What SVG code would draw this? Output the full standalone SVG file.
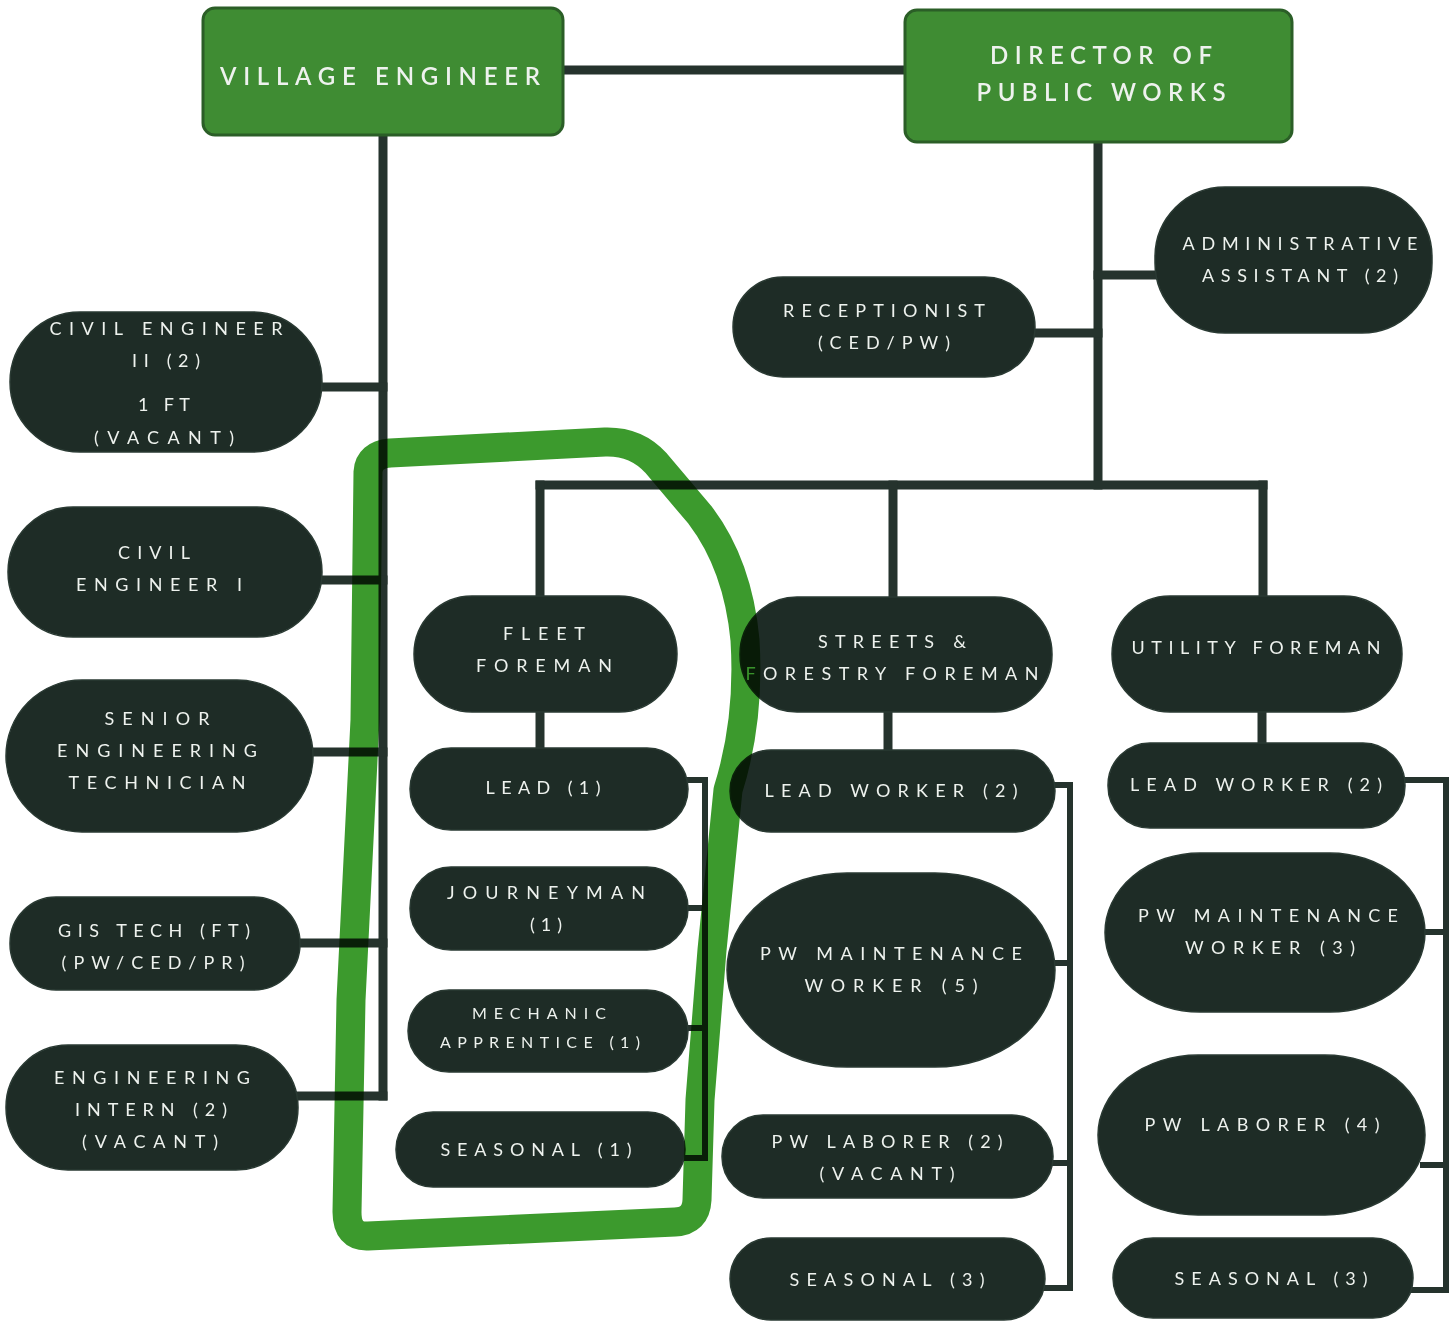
<svg xmlns="http://www.w3.org/2000/svg" width="1455" height="1321" viewBox="0 0 1455 1321">
  <style>
    .head rect { fill: #3f8c33; stroke: #2b5e27; stroke-width: 3; }
    .node rect { fill: #1e2c26; stroke: #2a3a33; stroke-width: 1.5; }
    text { font-family: Lato, "Noto Sans", "Liberation Sans", sans-serif; fill: #eef2ee; text-anchor: middle; }
    .node text { font-size: 18px; }
    .node text.sm { font-size: 16px; }
    .head text { font-size: 24px; font-weight: 600; }
    .conn line, .conn polyline { stroke: #25332d; fill: none; stroke-linecap: square; }
    .main { stroke-width: 9; }
    .br { stroke-width: 6; }
    .mark { fill: none; stroke: #3c9a2d; stroke-width: 29; stroke-linejoin: round; mix-blend-mode: multiply; }
  </style>

  <rect width="1455" height="1321" fill="#ffffff"/>

  <g class="conn" id="connectors">
    <line class="main" x1="563" y1="70" x2="905" y2="70" stroke-width="11"/>
    <line class="main" x1="383" y1="135" x2="383" y2="1096"/>
    <line class="main" x1="318" y1="387" x2="383" y2="387"/>
    <line class="main" x1="318" y1="580" x2="383" y2="580"/>
    <line class="main" x1="310" y1="752" x2="383" y2="752"/>
    <line class="main" x1="297" y1="943" x2="383" y2="943"/>
    <line class="main" x1="295" y1="1096" x2="383" y2="1096"/>

    <line class="main" x1="1098" y1="142" x2="1098" y2="485" stroke-width="11"/>
    <line class="main" x1="1098" y1="275" x2="1158" y2="275"/>
    <line class="main" x1="1032" y1="333" x2="1098" y2="333"/>
    <line class="main" x1="540" y1="485" x2="1263" y2="485"/>
    <line class="main" x1="540" y1="485" x2="540" y2="598"/>
    <line class="main" x1="893" y1="485" x2="893" y2="599"/>
    <line class="main" x1="1263" y1="485" x2="1263" y2="598"/>

    <line class="main" x1="540" y1="710" x2="540" y2="750"/>
    <line class="main" x1="888" y1="710" x2="888" y2="752"/>
    <line class="main" x1="1262" y1="710" x2="1262" y2="745"/>

    <polyline class="br" points="686,780 705,780 705,1158 683,1158"/>
    <line class="br" x1="686" y1="908" x2="705" y2="908"/>
    <line class="br" x1="686" y1="1028" x2="705" y2="1028"/>

    <polyline class="br" points="1053,785 1070,785 1070,1288 1043,1288"/>
    <line class="br" x1="1053" y1="963" x2="1070" y2="963"/>
    <line class="br" x1="1051" y1="1163" x2="1070" y2="1163"/>

    <polyline class="br" points="1403,780 1446,780 1446,1290 1411,1290"/>
    <line class="br" x1="1423" y1="932" x2="1446" y2="932"/>
    <line class="br" x1="1423" y1="1165" x2="1446" y2="1165"/>
  </g>

  <!-- heads -->
  <g class="head" id="village-engineer">
    <rect x="203" y="8" width="360" height="127" rx="12"/>
    <text x="380" y="85" textLength="320" lengthAdjust="spacing">VILLAGE ENGINEER</text>
  </g>
  <g class="head" id="director-public-works">
    <rect x="905" y="10" width="387" height="132" rx="12"/>
    <text x="1101" y="64" textLength="222" lengthAdjust="spacing">DIRECTOR OF</text>
    <text x="1101" y="101" textLength="249" lengthAdjust="spacing">PUBLIC WORKS</text>
  </g>

  <!-- engineering column -->
  <g class="node" id="civil-engineer-2">
    <rect x="10" y="312" width="312" height="140" rx="70"/>
    <text x="166" y="335" textLength="233" lengthAdjust="spacing">CIVIL ENGINEER</text>
    <text x="166" y="367" textLength="68" lengthAdjust="spacing">II (2)</text>
    <text x="164" y="411" textLength="52" lengthAdjust="spacing">1 FT</text>
    <text x="164" y="444" textLength="140" lengthAdjust="spacing">(VACANT)</text>
  </g>
  <g class="node" id="civil-engineer-1">
    <rect x="8" y="507" width="314" height="130" rx="65"/>
    <text x="154" y="559" textLength="72" lengthAdjust="spacing">CIVIL</text>
    <text x="159" y="591" textLength="166" lengthAdjust="spacing">ENGINEER I</text>
  </g>
  <g class="node" id="senior-engineering-technician">
    <rect x="6" y="680" width="307" height="152" rx="76"/>
    <text x="157" y="725" textLength="105" lengthAdjust="spacing">SENIOR</text>
    <text x="157" y="757" textLength="200" lengthAdjust="spacing">ENGINEERING</text>
    <text x="157" y="789" textLength="177" lengthAdjust="spacing">TECHNICIAN</text>
  </g>
  <g class="node" id="gis-tech">
    <rect x="10" y="897" width="290" height="93" rx="46"/>
    <text x="154" y="937" textLength="192" lengthAdjust="spacing">GIS TECH (FT)</text>
    <text x="153" y="969" textLength="183" lengthAdjust="spacing">(PW/CED/PR)</text>
  </g>
  <g class="node" id="engineering-intern">
    <rect x="6" y="1045" width="292" height="125" rx="62"/>
    <text x="152" y="1084" textLength="196" lengthAdjust="spacing">ENGINEERING</text>
    <text x="151" y="1116" textLength="152" lengthAdjust="spacing">INTERN (2)</text>
    <text x="150" y="1148" textLength="136" lengthAdjust="spacing">(VACANT)</text>
  </g>

  <!-- public works staff -->
  <g class="node" id="administrative-assistant">
    <rect x="1155" y="187" width="277" height="146" rx="70"/>
    <text x="1300" y="250" textLength="235" lengthAdjust="spacing">ADMINISTRATIVE</text>
    <text x="1300" y="282" textLength="196" lengthAdjust="spacing">ASSISTANT (2)</text>
  </g>
  <g class="node" id="receptionist">
    <rect x="733" y="277" width="302" height="100" rx="50"/>
    <text x="884" y="317" textLength="202" lengthAdjust="spacing">RECEPTIONIST</text>
    <text x="884" y="349" textLength="132" lengthAdjust="spacing">(CED/PW)</text>
  </g>

  <!-- fleet -->
  <g class="node" id="fleet-foreman">
    <rect x="414" y="596" width="263" height="116" rx="58"/>
    <text x="544" y="640" textLength="82" lengthAdjust="spacing">FLEET</text>
    <text x="544" y="672" textLength="136" lengthAdjust="spacing">FOREMAN</text>
  </g>
  <g class="node" id="fleet-lead">
    <rect x="410" y="748" width="278" height="82" rx="41"/>
    <text x="543" y="794" textLength="115" lengthAdjust="spacing">LEAD (1)</text>
  </g>
  <g class="node" id="fleet-journeyman">
    <rect x="410" y="867" width="278" height="83" rx="41"/>
    <text x="546" y="899" textLength="198" lengthAdjust="spacing">JOURNEYMAN</text>
    <text x="546" y="931" textLength="32" lengthAdjust="spacing">(1)</text>
  </g>
  <g class="node" id="fleet-mechanic-apprentice">
    <rect x="408" y="990" width="280" height="82" rx="41"/>
    <text class="sm" x="539" y="1019" textLength="134" lengthAdjust="spacing">MECHANIC</text>
    <text class="sm" x="540" y="1048" textLength="200" lengthAdjust="spacing">APPRENTICE (1)</text>
  </g>
  <g class="node" id="fleet-seasonal">
    <rect x="396" y="1112" width="289" height="75" rx="37"/>
    <text x="536" y="1156" textLength="191" lengthAdjust="spacing">SEASONAL (1)</text>
  </g>

  <!-- streets & forestry -->
  <g class="node" id="streets-forestry-foreman">
    <rect x="740" y="597" width="312" height="115" rx="57"/>
    <text x="892" y="648" textLength="148" lengthAdjust="spacing">STREETS &amp;</text>
    <text x="892" y="680" textLength="293" lengthAdjust="spacing">FORESTRY FOREMAN</text>
  </g>
  <g class="node" id="streets-lead-worker">
    <rect x="730" y="750" width="325" height="82" rx="41"/>
    <text x="891" y="797" textLength="253" lengthAdjust="spacing">LEAD WORKER (2)</text>
  </g>
  <g class="node" id="streets-maintenance-worker">
    <rect x="727" y="873" width="328" height="194" rx="120" ry="97"/>
    <text x="891" y="960" textLength="262" lengthAdjust="spacing">PW MAINTENANCE</text>
    <text x="891" y="992" textLength="173" lengthAdjust="spacing">WORKER (5)</text>
  </g>
  <g class="node" id="streets-laborer">
    <rect x="722" y="1115" width="331" height="83" rx="41"/>
    <text x="887" y="1148" textLength="231" lengthAdjust="spacing">PW LABORER (2)</text>
    <text x="887" y="1180" textLength="135" lengthAdjust="spacing">(VACANT)</text>
  </g>
  <g class="node" id="streets-seasonal">
    <rect x="730" y="1238" width="315" height="82" rx="41"/>
    <text x="887" y="1286" textLength="195" lengthAdjust="spacing">SEASONAL (3)</text>
  </g>

  <!-- utility -->
  <g class="node" id="utility-foreman">
    <rect x="1112" y="596" width="290" height="116" rx="58"/>
    <text x="1256" y="654" textLength="249" lengthAdjust="spacing">UTILITY FOREMAN</text>
  </g>
  <g class="node" id="utility-lead-worker">
    <rect x="1108" y="743" width="297" height="85" rx="42"/>
    <text x="1256" y="791" textLength="252" lengthAdjust="spacing">LEAD WORKER (2)</text>
  </g>
  <g class="node" id="utility-maintenance-worker">
    <rect x="1105" y="853" width="320" height="159" rx="95" ry="80"/>
    <text x="1268" y="922" textLength="260" lengthAdjust="spacing">PW MAINTENANCE</text>
    <text x="1270" y="954" textLength="170" lengthAdjust="spacing">WORKER (3)</text>
  </g>
  <g class="node" id="utility-laborer">
    <rect x="1098" y="1055" width="327" height="160" rx="100" ry="80"/>
    <text x="1262" y="1131" textLength="235" lengthAdjust="spacing">PW LABORER (4)</text>
  </g>
  <g class="node" id="utility-seasonal">
    <rect x="1113" y="1238" width="300" height="80" rx="40"/>
    <text x="1271" y="1285" textLength="193" lengthAdjust="spacing">SEASONAL (3)</text>
  </g>

  <!-- hand-drawn highlight around the fleet group -->
  <path class="mark" d="M 347 1212 L 351 1000 L 365 720 L 368 472 Q 369 455 390 453 L 605 442 Q 636 441 656 463 L 700 515 Q 738 565 745 640 Q 750 720 728 790 L 712 950 L 700 1100 L 697 1200 Q 696 1221 675 1222 L 368 1236 Q 347 1237 347 1212 Z"/>
</svg>
